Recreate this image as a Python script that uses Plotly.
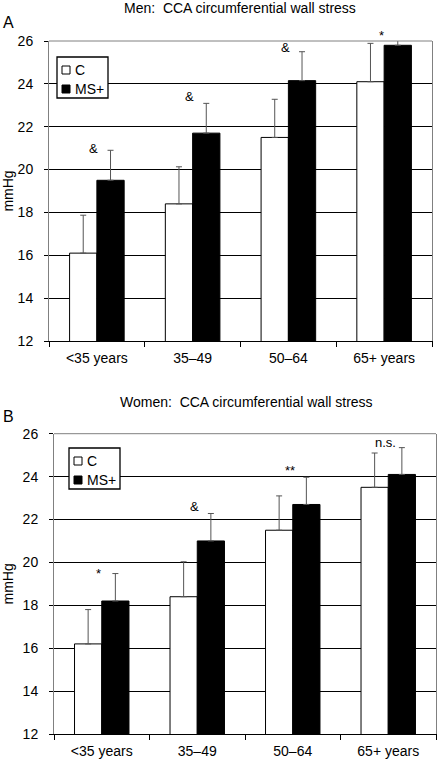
import plotly.graph_objects as go

W, H = 437, 763

categories = ["<35 years", "35\u201349", "50\u201364", "65+ years"]
series_names = ["C", "MS+"]
series_fill = ["white", "black"]

men_c = [16.1, 18.4, 21.5, 24.1]
men_c_err = [1.77, 1.73, 1.78, 1.79]
men_ms = [19.5, 21.7, 24.15, 25.8]
men_ms_err = [1.4, 1.39, 1.35, 0.32]
men_sig = ["&", "&", "&", "*"]
men_sig_y = [21.0, 23.4, 25.7, 26.25]

women_c = [16.2, 18.4, 21.5, 23.5]
women_c_err = [1.6, 1.63, 1.6, 1.6]
women_ms = [18.2, 21.0, 22.7, 24.1]
women_ms_err = [1.28, 1.28, 1.27, 1.25]
women_sig = ["*", "&", "**", "n.s."]
women_sig_y = [19.5, 22.6, 24.3, 25.6]

y_ticks = [12, 14, 16, 18, 20, 22, 24, 26]
Y_MIN, Y_MAX = 12, 26

FONT = "Liberation Sans, Arial, Helvetica, sans-serif"


def px(x):
    return x / W


def py(y):
    return 1 - y / H


fig = go.Figure()

panels = [
    dict(title="Men:\u00a0 CCA circumferential wall stress", letter="A",
         c=men_c, ce=men_c_err, m=men_ms, me=men_ms_err, sig=men_sig, sig_y=men_sig_y,
         xd=[px(49), px(432)], yd=[py(341), py(41)], title_xy=(240, 8), letter_y=23,
         legend_xy=(57, 57)),
    dict(title="Women:\u00a0 CCA circumferential wall stress", letter="B",
         c=women_c, ce=women_c_err, m=women_ms, me=women_ms_err, sig=women_sig, sig_y=women_sig_y,
         xd=[px(54), px(436)], yd=[py(734), py(433.7)], title_xy=(247, 402), letter_y=417,
         legend_xy=(69, 448)),
]

annotations = []
shapes = []

for i, p in enumerate(panels):
    n = i + 1
    xa = "x" if n == 1 else f"x{n}"
    ya = "y" if n == 1 else f"y{n}"
    for name, fill, vals, errs in [(series_names[0], series_fill[0], p["c"], p["ce"]),
                                   (series_names[1], series_fill[1], p["m"], p["me"])]:
        fig.add_trace(go.Bar(
            x=categories, y=vals, name=name, xaxis=xa, yaxis=ya,
            marker=dict(color=fill, line=dict(color="black", width=1)),
            error_y=dict(type="data", array=errs, arrayminus=[0] * len(errs), symmetric=False,
                         color="#555555", thickness=1, width=3),
            cliponaxis=False, showlegend=False, hoverinfo="skip",
        ))
    xkey = "xaxis" if n == 1 else f"xaxis{n}"
    ykey = "yaxis" if n == 1 else f"yaxis{n}"
    fig.update_layout(**{
        xkey: dict(domain=p["xd"], anchor=ya, type="category", showgrid=False,
                   showline=True, linecolor="black", linewidth=1,
                   ticks="outside", tickson="boundaries", ticklen=5, tickcolor="black",
                   ticklabelstandoff=4, automargin=False,
                   tickfont=dict(size=14, color="black", family=FONT), fixedrange=True),
        ykey: dict(domain=p["yd"], anchor=xa, range=[Y_MIN, Y_MAX], tickvals=y_ticks,
                   showgrid=True, gridcolor="black", gridwidth=1,
                   showline=True, linecolor="#808080", linewidth=1, mirror=True,
                   ticks="outside", ticklen=4, tickcolor="black",
                   ticklabelstandoff=8, automargin=False,
                   tickfont=dict(size=14, color="black", family=FONT),
                   title=dict(text="mmHg", font=dict(size=14, color="black", family=FONT), standoff=6),
                   zeroline=False, fixedrange=True),
    })
    # top frame line
    shapes.append(dict(type="line", xref=f"{xa} domain", yref=f"{ya} domain", x0=0, x1=1, y0=1, y1=1,
                       line=dict(color="#808080", width=1), layer="above"))
    # title and panel letter
    annotations.append(dict(text=p["title"], x=px(p["title_xy"][0]), y=py(p["title_xy"][1]),
                            xref="paper", yref="paper", xanchor="center", yanchor="middle",
                            showarrow=False, font=dict(size=14, color="black", family=FONT)))
    annotations.append(dict(text=p["letter"], x=px(1), y=py(p["letter_y"]),
                            xref="paper", yref="paper", xanchor="left", yanchor="middle",
                            showarrow=False, font=dict(size=16, color="black", family=FONT)))
    # significance markers (domain-relative y so markers above the axis range still show)
    for cat, s, sy in zip(categories, p["sig"], p["sig_y"]):
        annotations.append(dict(text=s, x=cat, y=(sy - Y_MIN) / (Y_MAX - Y_MIN),
                                xref=xa, yref=f"{ya} domain", xshift=-3,
                                xanchor="center", yanchor="middle", showarrow=False,
                                font=dict(size=13, color="black", family=FONT)))
    # legend box
    lx, ly = p["legend_xy"]
    shapes.append(dict(type="rect", xref="paper", yref="paper",
                       x0=px(lx), x1=px(lx + 51), y0=py(ly), y1=py(ly + 41),
                       line=dict(color="black", width=1.3), fillcolor="white", layer="above"))
    for k, (name, fill) in enumerate(zip(series_names, series_fill)):
        cy = ly + 13 + 19 * k
        shapes.append(dict(type="rect", xref="paper", yref="paper",
                           x0=px(lx + 5), x1=px(lx + 13), y0=py(cy - 4), y1=py(cy + 4),
                           line=dict(color="black", width=1), fillcolor=fill, layer="above"))
        annotations.append(dict(text=name, x=px(lx + 16), y=py(cy), xref="paper", yref="paper",
                                xanchor="left", yanchor="middle", showarrow=False,
                                font=dict(size=14, color="black", family=FONT)))

fig.update_layout(
    width=W, height=H, margin=dict(l=0, r=0, t=0, b=0),
    paper_bgcolor="white", plot_bgcolor="white",
    barmode="group", bargap=0.43, bargroupgap=0,
    showlegend=False, font=dict(family=FONT, color="black"),
    annotations=annotations, shapes=shapes,
)

fig.write_html("out.html",
               config={"displayModeBar": False, "staticPlot": True},
               post_script="document.body.style.margin='0';document.body.style.overflow='hidden';")
